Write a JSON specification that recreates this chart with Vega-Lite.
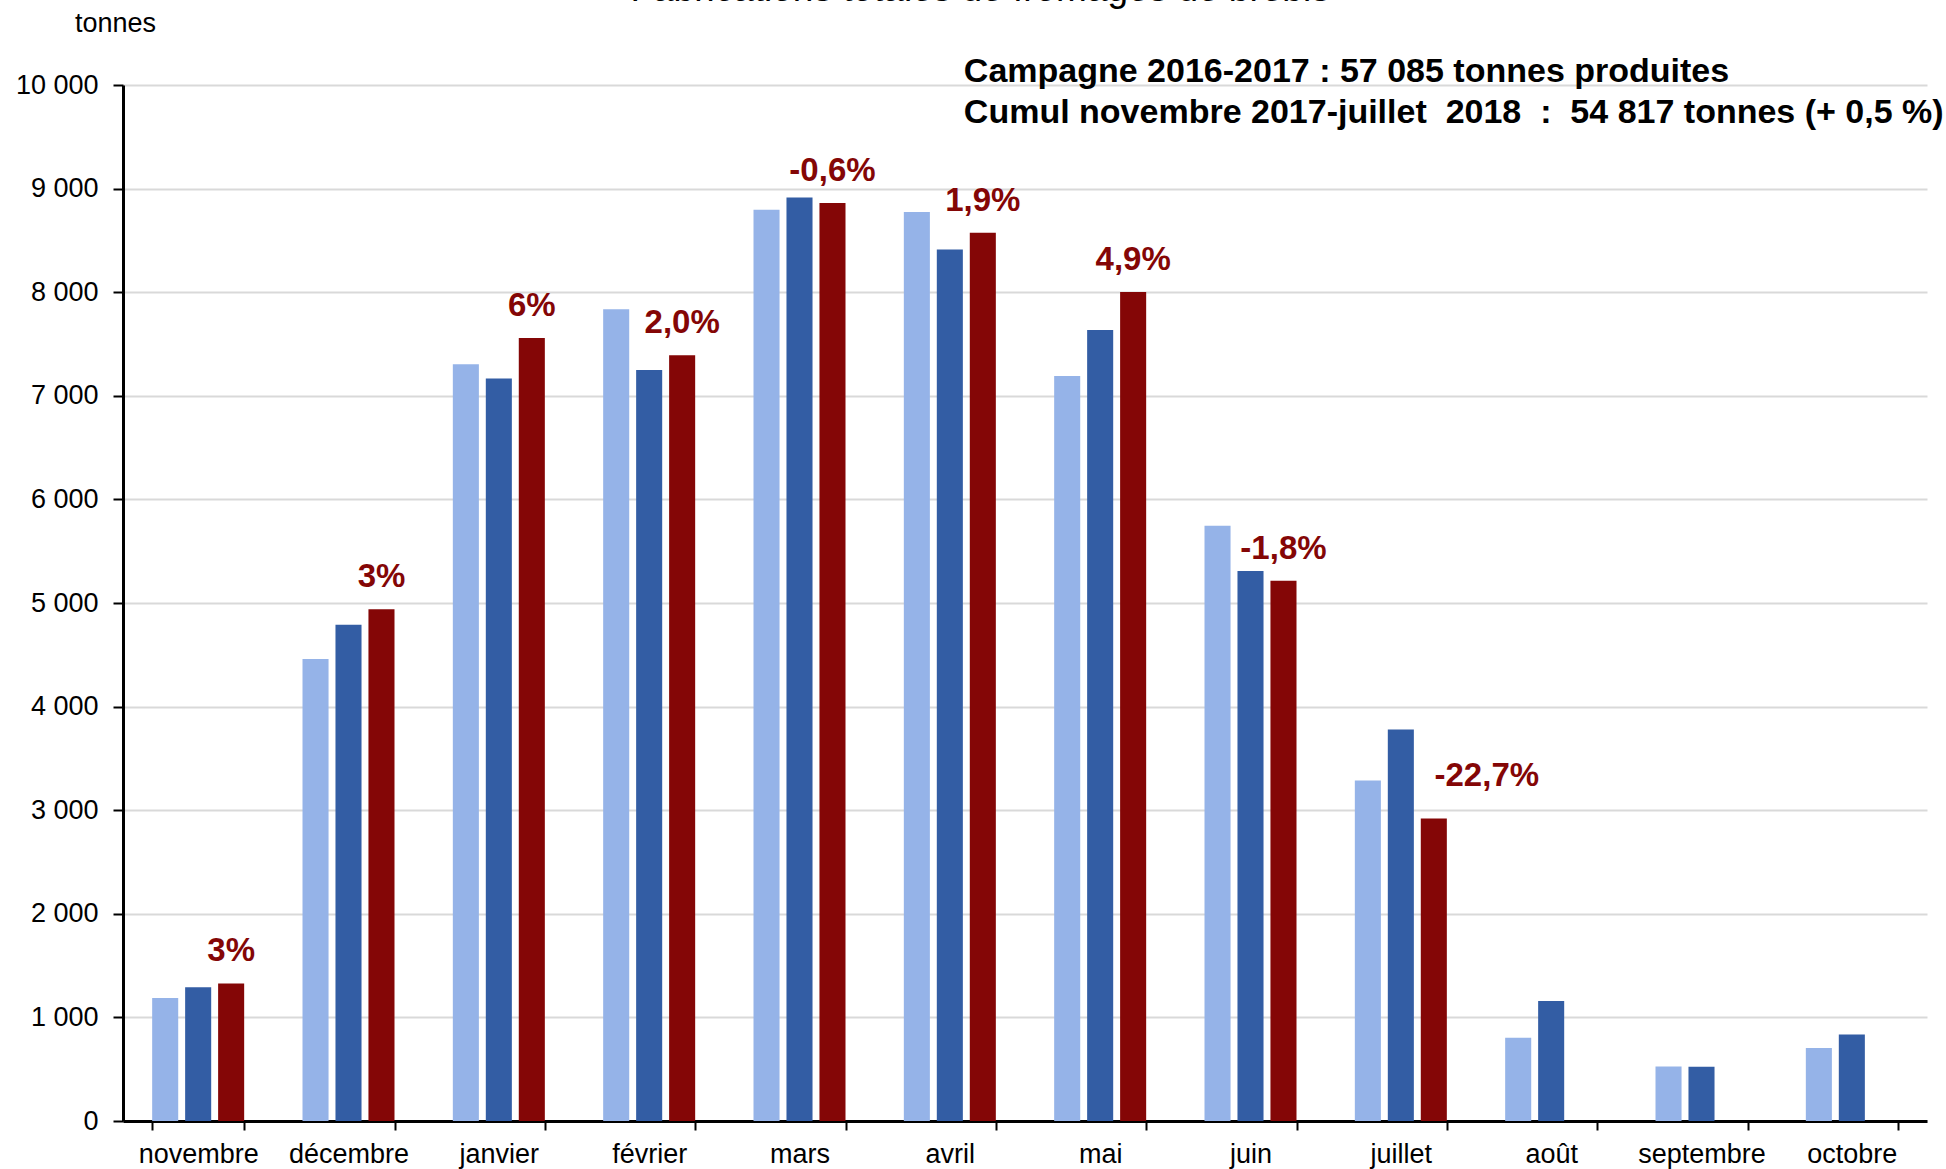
{
  "$schema": "https://vega.github.io/schema/vega-lite/v6.json",
  "width": 1804,
  "height": 1036,
  "autosize": {"type": "none"},
  "padding": {"left": 123, "top": 85, "right": 19, "bottom": 48},
  "background": "white",
  "config": {"view": {"stroke": null}, "font": "Liberation Sans"},
  "title": {
    "text": "Fabrications totales de fromages de brebis",
    "fontSize": 37,
    "fontWeight": "normal",
    "font": "Liberation Sans",
    "color": "black",
    "anchor": "middle",
    "frame": "group",
    "dx": -45,
    "offset": 0
  },
  "data": {
    "values": [
      {"mois": "novembre", "campagne": "2015-2016", "tonnes": 1187},
      {"mois": "novembre", "campagne": "2016-2017", "tonnes": 1290},
      {"mois": "novembre", "campagne": "2017-2018", "tonnes": 1328, "pct": "3%"},
      {"mois": "décembre", "campagne": "2015-2016", "tonnes": 4460},
      {"mois": "décembre", "campagne": "2016-2017", "tonnes": 4791},
      {"mois": "décembre", "campagne": "2017-2018", "tonnes": 4939, "pct": "3%"},
      {"mois": "janvier", "campagne": "2015-2016", "tonnes": 7304},
      {"mois": "janvier", "campagne": "2016-2017", "tonnes": 7166},
      {"mois": "janvier", "campagne": "2017-2018", "tonnes": 7558, "pct": "6%"},
      {"mois": "février", "campagne": "2015-2016", "tonnes": 7835},
      {"mois": "février", "campagne": "2016-2017", "tonnes": 7249},
      {"mois": "février", "campagne": "2017-2018", "tonnes": 7391, "pct": "2,0%"},
      {"mois": "mars", "campagne": "2015-2016", "tonnes": 8797},
      {"mois": "mars", "campagne": "2016-2017", "tonnes": 8913},
      {"mois": "mars", "campagne": "2017-2018", "tonnes": 8862, "pct": "-0,6%"},
      {"mois": "avril", "campagne": "2015-2016", "tonnes": 8775},
      {"mois": "avril", "campagne": "2016-2017", "tonnes": 8411},
      {"mois": "avril", "campagne": "2017-2018", "tonnes": 8575, "pct": "1,9%"},
      {"mois": "mai", "campagne": "2015-2016", "tonnes": 7192},
      {"mois": "mai", "campagne": "2016-2017", "tonnes": 7636},
      {"mois": "mai", "campagne": "2017-2018", "tonnes": 8003, "pct": "4,9%"},
      {"mois": "juin", "campagne": "2015-2016", "tonnes": 5746},
      {"mois": "juin", "campagne": "2016-2017", "tonnes": 5310},
      {"mois": "juin", "campagne": "2017-2018", "tonnes": 5215, "pct": "-1,8%"},
      {"mois": "juillet", "campagne": "2015-2016", "tonnes": 3286},
      {"mois": "juillet", "campagne": "2016-2017", "tonnes": 3778},
      {"mois": "juillet", "campagne": "2017-2018", "tonnes": 2919, "pct": "-22,7%"},
      {"mois": "août", "campagne": "2015-2016", "tonnes": 803},
      {"mois": "août", "campagne": "2016-2017", "tonnes": 1159},
      {"mois": "septembre", "campagne": "2015-2016", "tonnes": 527},
      {"mois": "septembre", "campagne": "2016-2017", "tonnes": 524},
      {"mois": "octobre", "campagne": "2015-2016", "tonnes": 705},
      {"mois": "octobre", "campagne": "2016-2017", "tonnes": 835}
    ]
  },
  "layer": [
    {
      "mark": {"type": "bar"},
      "encoding": {
        "x": {
          "field": "mois",
          "type": "nominal",
          "sort": ["novembre", "décembre", "janvier", "février", "mars", "avril", "mai", "juin", "juillet", "août", "septembre", "octobre"],
          "scale": {"paddingInner": 0.388, "paddingOuter": 0.194},
          "axis": {
            "title": null,
            "tickBand": "extent",
            "domainColor": "black",
            "domainWidth": 3,
            "tickColor": "black",
            "tickWidth": 2,
            "tickSize": 9,
            "labelFontSize": 27,
            "labelColor": "black",
            "labelAngle": 0,
            "labelPadding": 11,
            "grid": false
          }
        },
        "xOffset": {
          "field": "campagne",
          "type": "nominal",
          "scale": {"domain": ["2015-2016", "2016-2017", "2017-2018"], "paddingInner": 0.21, "paddingOuter": 0}
        },
        "y": {
          "field": "tonnes",
          "type": "quantitative",
          "scale": {"domain": [0, 10000], "nice": false},
          "axis": {
            "values": [0, 1000, 2000, 3000, 4000, 5000, 6000, 7000, 8000, 9000, 10000],
            "labelExpr": "replace(format(datum.value, ',d'), ',', ' ')",
            "grid": true,
            "gridColor": "#D9D9D9",
            "gridWidth": 2,
            "domainColor": "black",
            "domainWidth": 3,
            "tickColor": "black",
            "tickWidth": 2,
            "tickSize": 10,
            "labelFontSize": 27,
            "labelColor": "black",
            "labelPadding": 15,
            "title": "tonnes",
            "titleAngle": 0,
            "titleX": -8,
            "titleY": -62,
            "titleAlign": "center",
            "titleBaseline": "middle",
            "titleFontSize": 27,
            "titleFontWeight": "normal",
            "titleColor": "black"
          }
        },
        "color": {
          "field": "campagne",
          "type": "nominal",
          "scale": {"domain": ["2015-2016", "2016-2017", "2017-2018"], "range": ["#95B3E8", "#335DA4", "#840606"]},
          "legend": null
        }
      }
    },
    {
      "transform": [{"filter": "isValid(datum.pct) && datum.mois != 'juillet'"}],
      "mark": {"type": "text", "dy": -32, "baseline": "middle", "align": "center", "fontSize": 33, "fontWeight": "bold", "color": "#840606"},
      "encoding": {
        "x": {"field": "mois", "type": "nominal", "sort": ["novembre", "décembre", "janvier", "février", "mars", "avril", "mai", "juin", "juillet", "août", "septembre", "octobre"]},
        "xOffset": {"field": "campagne", "type": "nominal"},
        "y": {"field": "tonnes", "type": "quantitative"},
        "text": {"field": "pct"}
      }
    },
    {
      "transform": [{"filter": "datum.mois == 'juillet' && isValid(datum.pct)"}],
      "mark": {"type": "text", "dy": -43, "dx": 53, "baseline": "middle", "align": "center", "fontSize": 33, "fontWeight": "bold", "color": "#840606"},
      "encoding": {
        "x": {"field": "mois", "type": "nominal", "sort": ["novembre", "décembre", "janvier", "février", "mars", "avril", "mai", "juin", "juillet", "août", "septembre", "octobre"]},
        "xOffset": {"field": "campagne", "type": "nominal"},
        "y": {"field": "tonnes", "type": "quantitative"},
        "text": {"field": "pct"}
      }
    },
    {
      "data": {"values": [{"note": 1}]},
      "mark": {"type": "text", "align": "left", "baseline": "middle", "fontSize": 34, "fontWeight": "bold", "lineHeight": 41, "dx": 14, "color": "black"},
      "encoding": {
        "x": {"datum": "avril", "type": "nominal"},
        "y": {"datum": 10125, "type": "quantitative"},
        "text": {"value": ["Campagne 2016-2017 : 57 085 tonnes produites", "Cumul novembre 2017-juillet\u00a0 2018\u00a0 :\u00a0 54 817 tonnes (+ 0,5 %)"]}
      }
    }
  ]
}
